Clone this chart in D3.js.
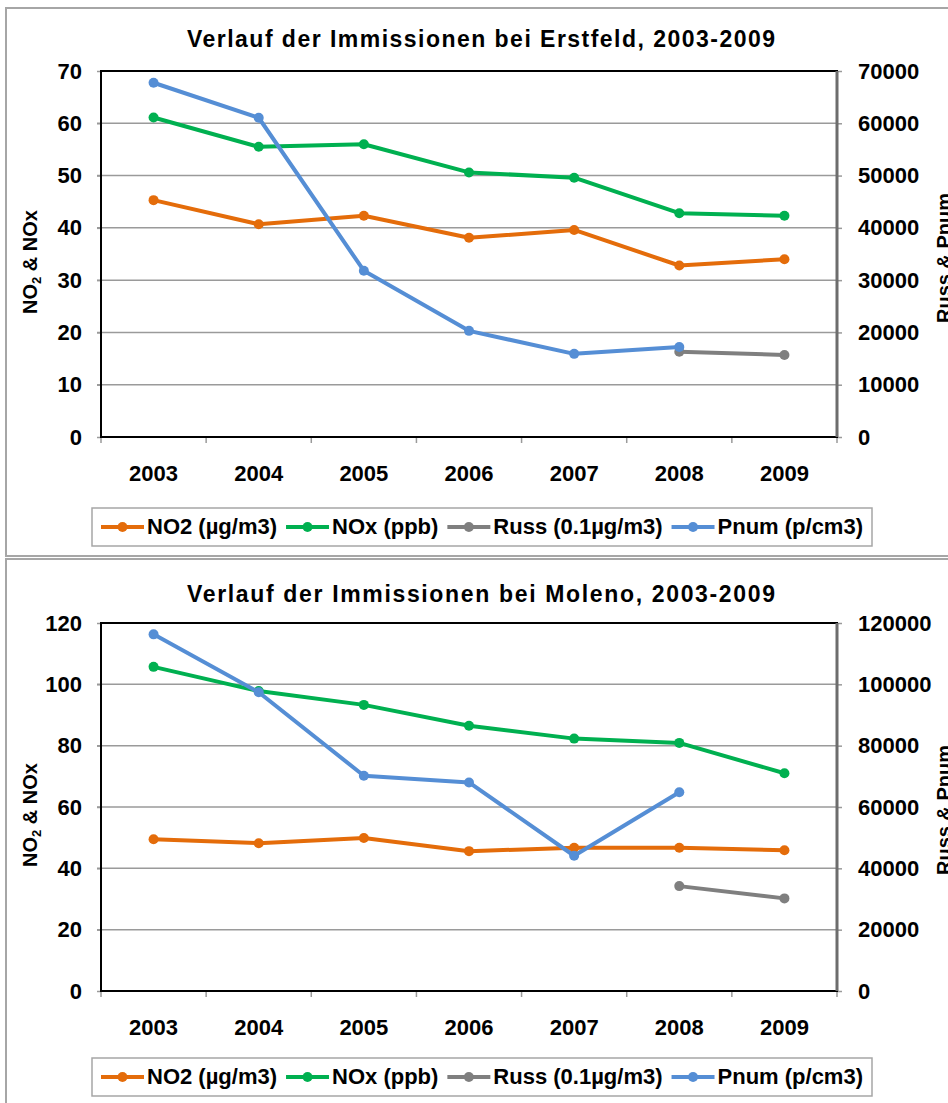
<!DOCTYPE html>
<html>
<head>
<meta charset="utf-8">
<script src="https://cdn.jsdelivr.net/npm/d3@7"></script>
<style>
  body { margin: 0; background: #fff; }
  text { font-family: "Liberation Sans", Arial, sans-serif; }
</style>
</head>
<body>
<div id="chart"></div>
<script>
// Jahre (Kategorien)
const years = ['2003', '2004', '2005', '2006', '2007', '2008', '2009'];

// Erstfeld
const erstfeldNO2 = [45.3, 40.7, 42.3, 38.1, 39.6, 32.8, 34.0];
const erstfeldNOx = [61.1, 55.5, 56.0, 50.6, 49.6, 42.8, 42.3];
const erstfeldRuss = [null, null, null, null, null, 16.3, 15.7];
const erstfeldPnum = [67750, 61060, 31800, 20300, 15900, 17200, null];
const erstfeldLeftTicks = [0, 10, 20, 30, 40, 50, 60, 70];
const erstfeldRightTicks = [0, 10000, 20000, 30000, 40000, 50000, 60000, 70000];

// Moleno
const molenoNO2 = [49.5, 48.2, 49.9, 45.6, 46.7, 46.7, 45.9];
const molenoNOx = [105.7, 97.8, 93.3, 86.5, 82.3, 80.9, 71.0];
const molenoRuss = [null, null, null, null, null, 34.2, 30.2];
const molenoPnum = [116300, 97400, 70200, 68000, 44100, 64800, null];
const molenoLeftTicks = [0, 20, 40, 60, 80, 100, 120];
const molenoRightTicks = [0, 20000, 40000, 60000, 80000, 100000, 120000];

const seriesNames = ['NO2 (µg/m3)', 'NOx (ppb)', 'Russ (0.1µg/m3)', 'Pnum (p/cm3)'];
const seriesColors = ['#E46C0A', '#00B050', '#7F7F7F', '#558ED5'];

const W = 948, H = 1103;
const svg = d3.select('#chart').append('svg')
    .attr('width', W)
    .attr('height', H);

function drawPanel(cfg) {
    const g = svg.append('g');

    // Rahmen des Diagramms
    g.append('rect')
        .attr('x', 6).attr('y', cfg.frameTop)
        .attr('width', 1000).attr('height', cfg.frameHeight)
        .attr('fill', '#fff')
        .attr('stroke', '#a6a6a6')
        .attr('stroke-width', 2);

    const left = 101, right = 837;
    const x = d3.scaleBand().domain(years).range([left, right]);
    const yL = d3.scaleLinear().domain([0, d3.max(cfg.leftTicks)]).range([cfg.plotBottom, cfg.plotTop]);
    const yR = d3.scaleLinear().domain([0, d3.max(cfg.rightTicks)]).range([cfg.plotBottom, cfg.plotTop]);

    // Titel
    g.append('text')
        .attr('x', 481).attr('y', cfg.titleY)
        .attr('text-anchor', 'middle')
        .attr('font-size', 23).attr('font-weight', 'bold')
        .attr('textLength', 588).attr('lengthAdjust', 'spacing')
        .text(cfg.title);

    // Gitterlinien
    g.append('g').selectAll('line')
        .data(cfg.leftTicks.slice(1, -1))
        .enter().append('line')
        .attr('x1', left - 4).attr('x2', right)
        .attr('y1', d => yL(d)).attr('y2', d => yL(d))
        .attr('stroke', '#9a9a9a').attr('stroke-width', 1.5);

    // Linke Achse
    const axL = g.append('g')
        .attr('transform', `translate(${left},0)`)
        .call(d3.axisLeft(yL).tickValues(cfg.leftTicks).tickSizeInner(4).tickSizeOuter(0).tickPadding(15));
    // Rechte Achse
    const axR = g.append('g')
        .attr('transform', `translate(${right},0)`)
        .call(d3.axisRight(yR).tickValues(cfg.rightTicks).tickSizeInner(5).tickSizeOuter(0).tickPadding(16).tickFormat(d3.format('d')));
    // Untere Achse (nur Beschriftung)
    const axB = g.append('g')
        .attr('transform', `translate(0,${cfg.plotBottom})`)
        .call(d3.axisBottom(x).tickSize(0).tickPadding(28));

    [axL, axR, axB].forEach(ax => {
        ax.select('.domain').remove();
        ax.selectAll('line').attr('stroke', '#9a9a9a').attr('stroke-width', 1.5);
        ax.selectAll('text')
            .attr('font-family', '"Liberation Sans", Arial, sans-serif')
            .attr('font-size', 22).attr('font-weight', 'bold').attr('fill', '#000');
    });

    // Ticks an den Kategoriegrenzen
    const bounds = years.map(d => x(d)).concat([right]);
    g.append('g').selectAll('line')
        .data(bounds).enter().append('line')
        .attr('x1', d => d).attr('x2', d => d)
        .attr('y1', cfg.plotBottom).attr('y2', cfg.plotBottom + 6)
        .attr('stroke', '#9a9a9a').attr('stroke-width', 1.5);

    // Rahmen der Zeichenfläche
    g.append('rect')
        .attr('x', left).attr('y', cfg.plotTop)
        .attr('width', right - left).attr('height', cfg.plotBottom - cfg.plotTop)
        .attr('fill', 'none').attr('stroke', '#000').attr('stroke-width', 2);
    g.append('line')
        .attr('x1', right).attr('x2', right)
        .attr('y1', cfg.plotTop).attr('y2', cfg.plotBottom)
        .attr('stroke', '#6d6d6d').attr('stroke-width', 3);

    // Achsentitel
    const lt = g.append('text')
        .attr('transform', `translate(37,${cfg.leftTitleY}) rotate(-90)`)
        .attr('text-anchor', 'middle')
        .attr('font-size', 20).attr('font-weight', 'bold');
    lt.append('tspan').text('NO');
    lt.append('tspan').attr('font-size', 13).attr('dy', 4).text('2');
    lt.append('tspan').attr('dy', -4).text(' & NOx');

    // rechter Titel, am Bildrand abgeschnitten
    g.append('text')
        .attr('transform', `translate(951,${cfg.rightTitleY}) rotate(-90)`)
        .attr('text-anchor', 'middle')
        .attr('font-size', 20).attr('font-weight', 'bold')
        .text('Russ & Pnum');

    // Datenreihen
    const series = [
        { values: cfg.no2, scale: yL },
        { values: cfg.nox, scale: yL },
        { values: cfg.russ, scale: yL },
        { values: cfg.pnum, scale: yR }
    ];
    series.forEach((s, i) => {
        const pts = s.values.map((v, j) => ({ year: years[j], v: v }));
        const line = d3.line()
            .defined(d => d.v != null)
            .x(d => x(d.year) + x.bandwidth() / 2)
            .y(d => s.scale(d.v));
        g.append('path')
            .datum(pts)
            .attr('d', line)
            .attr('fill', 'none')
            .attr('stroke', seriesColors[i])
            .attr('stroke-width', 4)
            .attr('stroke-linejoin', 'round');
        g.append('g').selectAll('circle')
            .data(pts.filter(d => d.v != null))
            .enter().append('circle')
            .attr('cx', d => x(d.year) + x.bandwidth() / 2)
            .attr('cy', d => s.scale(d.v))
            .attr('r', 5)
            .attr('fill', seriesColors[i]);
    });

    // Legende
    const lg = g.append('g');
    lg.append('rect')
        .attr('x', 92).attr('y', cfg.legendTop)
        .attr('width', 780).attr('height', 38)
        .attr('fill', '#fff').attr('stroke', '#a6a6a6').attr('stroke-width', 1.5);
    let cx = 101;
    const base = cfg.legendTop + 26;
    seriesNames.forEach((name, i) => {
        lg.append('line')
            .attr('x1', cx).attr('x2', cx + 43)
            .attr('y1', base - 7).attr('y2', base - 7)
            .attr('stroke', seriesColors[i]).attr('stroke-width', 4);
        lg.append('circle')
            .attr('cx', cx + 21.5).attr('cy', base - 7).attr('r', 5)
            .attr('fill', seriesColors[i]);
        const t = lg.append('text')
            .attr('x', cx + 46).attr('y', base)
            .attr('font-size', 22).attr('font-weight', 'bold')
            .text(name);
        cx += 46 + t.node().getComputedTextLength() + 9;
    });
}

drawPanel({
    title: 'Verlauf der Immissionen  bei Erstfeld, 2003-2009',
    frameTop: 8, frameHeight: 548,
    titleY: 47, plotTop: 71, plotBottom: 437,
    leftTitleY: 262, rightTitleY: 258, legendTop: 508,
    leftTicks: erstfeldLeftTicks, rightTicks: erstfeldRightTicks,
    no2: erstfeldNO2, nox: erstfeldNOx, russ: erstfeldRuss, pnum: erstfeldPnum
});

drawPanel({
    title: 'Verlauf der Immissionen  bei Moleno, 2003-2009',
    frameTop: 559, frameHeight: 600,
    titleY: 602, plotTop: 623, plotBottom: 991,
    leftTitleY: 815, rightTitleY: 810, legendTop: 1058,
    leftTicks: molenoLeftTicks, rightTicks: molenoRightTicks,
    no2: molenoNO2, nox: molenoNOx, russ: molenoRuss, pnum: molenoPnum
});
</script>
</body>
</html>
